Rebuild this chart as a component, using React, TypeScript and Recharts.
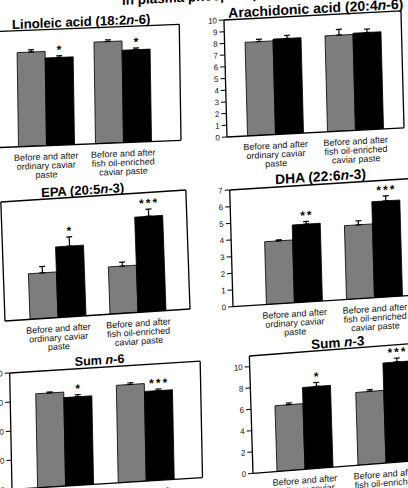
import React from "react";
import { Bar, BarChart, ErrorBar, LabelList, XAxis, YAxis } from "recharts";

const FONT = '"Liberation Sans", Arial, Helvetica, sans-serif';

const categories = ["ordinary", "fishOil"];
const categoryLabels = [
  ["Before and after", "ordinary caviar", "paste"],
  ["Before and after", "fish oil-enriched", "caviar paste"],
];

const headerText = "in plasma phospholipids";

// Linoleic acid (18:2n-6)
const linoleicTitle = ["Linoleic acid (18:2", "n", "-6)"];
const linoleicBefore = [20.3, 21.9];
const linoleicAfter = [18.9, 19.9];
const linoleicBeforeSem = [0.5, 0.36];
const linoleicAfterSem = [0.36, 0.36];
const linoleicStars = ["*", "*"];
const linoleicTicks = [0, 5, 10, 15, 20, 25];

// Arachidonic acid (20:4n-6)
const arachidonicTitle = ["Arachidonic acid (20:4", "n", "-6)"];
const arachidonicBefore = [8.0, 8.2];
const arachidonicAfter = [8.15, 8.3];
const arachidonicBeforeSem = [0.2, 0.49];
const arachidonicAfterSem = [0.26, 0.29];
const arachidonicStars = ["", ""];
const arachidonicTicks = [0, 1, 2, 3, 4, 5, 6, 7, 8, 9, 10];

// EPA (20:5n-3)
const epaTitle = ["EPA (20:5", "n", "-3)"];
const epaBefore = [1.15, 1.19];
const epaAfter = [1.78, 2.4];
const epaBeforeSem = [0.16, 0.1];
const epaAfterSem = [0.23, 0.18];
const epaStars = ["*", "***"];
const epaTicks = [0, 1, 2, 3];

// DHA (22:6n-3)
const dhaTitle = ["DHA (22:6", "n", "-3)"];
const dhaBefore = [3.77, 4.43];
const dhaAfter = [4.67, 5.76];
const dhaBeforeSem = [0.06, 0.24];
const dhaAfterSem = [0.16, 0.3];
const dhaStars = ["**", "***"];
const dhaTicks = [0, 1, 2, 3, 4, 5, 6, 7];

// Sum n-6
const sumN6Title = ["Sum ", "n", "-6"];
const sumN6Before = [32.3, 33.5];
const sumN6After = [30.4, 30.8];
const sumN6BeforeSem = [0.34, 0.57];
const sumN6AfterSem = [0.7, 0.57];
const sumN6Stars = ["*", "***"];
const sumN6Ticks = [0, 10, 20, 30, 40];

// Sum n-3
const sumN3Title = ["Sum ", "n", "-3"];
const sumN3Before = [6.16, 6.82];
const sumN3After = [7.67, 9.38];
const sumN3BeforeSem = [0.16, 0.16];
const sumN3AfterSem = [0.37, 0.37];
const sumN3Stars = ["*", "***"];
const sumN3Ticks = [0, 2, 4, 6, 8, 10];

// where each panel sits on the (slightly skewed) scanned page
const layout = {
  linoleic: { ox: -12, oy: 148.3, s: -0.04, k: 0.015, w: 193, h: 116, padL: 19.5, padR: 19.5, titleX: 95, titleSize: 13.2, yLabels: false },
  arachidonic: { ox: 227, oy: 137, s: -0.052, k: 0.026, w: 177, h: 117, padL: 8.5, padR: 8.5, titleX: 92, titleSize: 14, yLabels: true },
  epa: { ox: 5, oy: 321, s: -0.065, k: 0.035, w: 185, h: 119, padL: 13, padR: 12, titleX: 82, titleSize: 13, yLabels: false },
  dha: { ox: 233.3, oy: 306.7, s: -0.063, k: 0.028, w: 199, h: 116.7, padL: 21.4, padR: 17.4, titleX: 91, titleSize: 13.8, yLabels: true },
  sumN6: { ox: 12.4, oy: 489.7, s: -0.062, k: 0.02, w: 190.5, h: 116.4, padL: 13.6, padR: 15.6, titleX: 90, titleSize: 12.6, yLabels: true },
  sumN3: { ox: 253.3, oy: 473.3, s: -0.077, k: 0.031, w: 178, h: 117.3, padL: 11, padR: 5, titleX: 88.6, titleSize: 13.5, yLabels: true },
};

const Y_W = 30;
const TOP = 20;
const X_H = 40;
const RIGHT = 2;
const GRAY = "#7d7d7d";

const CategoryTick = (props: any) => {
  const { x, y, payload } = props;
  const lines = categoryLabels[categories.indexOf(payload.value)] ?? [];
  return (
    <text x={x} y={y} textAnchor="middle" fontSize={9} fontFamily={FONT} fill="#111">
      {lines.map((l, i) => (
        <tspan key={i} x={x} dy={i === 0 ? 14 : 9}>
          {l}
        </tspan>
      ))}
    </text>
  );
};

function Panel({ title, before, after, beforeSem, afterSem, stars, ticks, max, at }: any) {
  const data = categories.map((c, i) => ({
    cat: c,
    before: before[i],
    after: after[i],
    beforeErr: [0, beforeSem[i]],
    afterErr: [0, afterSem[i]],
  }));
  const width = Y_W + at.w + 1 + RIGHT;
  const height = TOP + 1 + at.h + X_H;
  const originY = TOP + 1 + at.h;

  const renderStars = (p: any) => {
    const vb = p.viewBox ?? p;
    const idx = p.index;
    const label = stars[idx];
    if (!label) return null;
    const x = Number(vb.x ?? p.x);
    const y = Number(vb.y ?? p.y);
    const w = Number(vb.width ?? p.width);
    const hgt = Math.abs(Number(vb.height ?? p.height));
    const errPx = (hgt * afterSem[idx]) / after[idx];
    return (
      <text
        x={x + w / 2 + (label.length > 1 ? 1 : 0)}
        y={y - errPx - 2}
        textAnchor="middle"
        fontSize={12}
        fontWeight="bold"
        fontFamily={FONT}
        letterSpacing={label.length > 1 ? 2 : 0}
        fill="#000"
      >
        {label}
      </text>
    );
  };

  return (
    <div
      style={{
        position: "absolute",
        left: at.ox - Y_W,
        top: at.oy - originY,
        width,
        height,
        transformOrigin: `${Y_W}px ${originY}px`,
        transform: `matrix(1, ${at.s}, ${at.k}, 1, 0, 0)`,
      }}
    >
      <div
        style={{
          position: "absolute",
          left: Y_W + at.titleX - 150,
          width: 300,
          textAlign: "center",
          top: TOP + 1 - 2 - at.titleSize * 0.85,
          whiteSpace: "nowrap",
          fontFamily: FONT,
          fontWeight: "bold",
          fontSize: at.titleSize,
          lineHeight: `${at.titleSize}px`,
          color: "#000",
        }}
      >
        {title.map((t: string, i: number) =>
          i % 2 === 1 ? <i key={i}>{t}</i> : <span key={i}>{t}</span>
        )}
      </div>
      <BarChart
        width={width}
        height={height}
        data={data}
        margin={{ top: TOP, right: RIGHT, bottom: 0, left: 0 }}
        barSize={28}
        barGap={0}
      >
        <XAxis
          xAxisId="top"
          dataKey="cat"
          orientation="top"
          height={1}
          tick={false}
          tickLine={false}
          axisLine={{ stroke: "#000", strokeWidth: 1.3 }}
          padding={{ left: at.padL, right: at.padR }}
        />
        <YAxis
          yAxisId="right"
          orientation="right"
          width={1}
          domain={[0, 1]}
          tick={false}
          tickLine={false}
          axisLine={{ stroke: "#000", strokeWidth: 1.3 }}
        />
        <XAxis
          dataKey="cat"
          height={X_H}
          interval={0}
          tickLine={false}
          tickSize={0}
          tickMargin={0}
          tick={<CategoryTick />}
          axisLine={{ stroke: "#000", strokeWidth: 1.3 }}
          padding={{ left: at.padL, right: at.padR }}
        />
        <YAxis
          type="number"
          width={Y_W}
          domain={[0, max]}
          ticks={ticks}
          interval={0}
          allowDataOverflow
          tickSize={5}
          tickMargin={2}
          tick={at.yLabels ? { fontSize: 8, fontFamily: FONT, fill: "#111" } : false}
          tickLine={{ stroke: "#000" }}
          axisLine={{ stroke: "#000", strokeWidth: 1.3 }}
        />
        <Bar dataKey="before" fill={GRAY} stroke="#000" strokeWidth={0.8} isAnimationActive={false}>
          <ErrorBar dataKey="beforeErr" width={3} stroke="#000" strokeWidth={1.2} direction="y" />
        </Bar>
        <Bar dataKey="after" fill="#000" stroke="#000" strokeWidth={0.8} isAnimationActive={false}>
          <ErrorBar dataKey="afterErr" width={3} stroke="#000" strokeWidth={1.2} direction="y" />
          <LabelList dataKey="after" content={renderStars} />
        </Bar>
      </BarChart>
    </div>
  );
}

export default function App() {
  return (
    <div
      style={{
        position: "absolute",
        left: 0,
        top: 0,
        width: 408,
        height: 488,
        overflow: "hidden",
        background: "#fff",
        fontFamily: FONT,
      }}
    >
      <div
        style={{
          position: "absolute",
          left: 122,
          top: -6.5,
          whiteSpace: "nowrap",
          fontWeight: "bold",
          fontSize: 13.5,
          lineHeight: "13.5px",
          transformOrigin: "0px 11.5px",
          transform: "matrix(1, -0.05, 0, 1, 0, 0)",
        }}
      >
        {headerText}
      </div>
      <Panel
        title={linoleicTitle}
        before={linoleicBefore}
        after={linoleicAfter}
        beforeSem={linoleicBeforeSem}
        afterSem={linoleicAfterSem}
        stars={linoleicStars}
        ticks={linoleicTicks}
        max={25}
        at={layout.linoleic}
      />
      <Panel
        title={arachidonicTitle}
        before={arachidonicBefore}
        after={arachidonicAfter}
        beforeSem={arachidonicBeforeSem}
        afterSem={arachidonicAfterSem}
        stars={arachidonicStars}
        ticks={arachidonicTicks}
        max={10}
        at={layout.arachidonic}
      />
      <Panel
        title={epaTitle}
        before={epaBefore}
        after={epaAfter}
        beforeSem={epaBeforeSem}
        afterSem={epaAfterSem}
        stars={epaStars}
        ticks={epaTicks}
        max={3}
        at={layout.epa}
      />
      <Panel
        title={dhaTitle}
        before={dhaBefore}
        after={dhaAfter}
        beforeSem={dhaBeforeSem}
        afterSem={dhaAfterSem}
        stars={dhaStars}
        ticks={dhaTicks}
        max={7}
        at={layout.dha}
      />
      <Panel
        title={sumN6Title}
        before={sumN6Before}
        after={sumN6After}
        beforeSem={sumN6BeforeSem}
        afterSem={sumN6AfterSem}
        stars={sumN6Stars}
        ticks={sumN6Ticks}
        max={40}
        at={layout.sumN6}
      />
      <Panel
        title={sumN3Title}
        before={sumN3Before}
        after={sumN3After}
        beforeSem={sumN3BeforeSem}
        afterSem={sumN3AfterSem}
        stars={sumN3Stars}
        ticks={sumN3Ticks}
        max={11}
        at={layout.sumN3}
      />
    </div>
  );
}
